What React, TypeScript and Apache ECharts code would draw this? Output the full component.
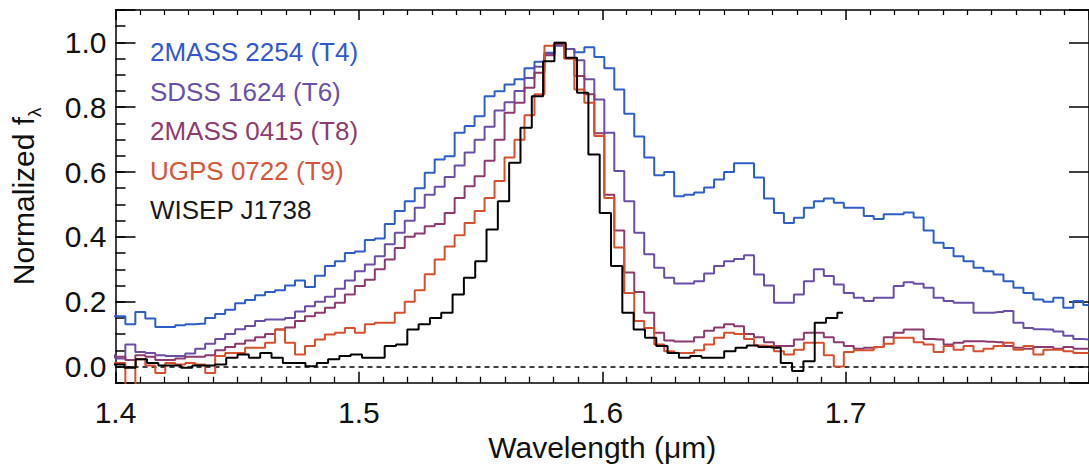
import React, { useEffect, useRef } from "react";
import * as echarts from "echarts";

// Wavelength grid (µm) of the four SpeX-like spectra (bin centres)
const WL_A = [
  1.3979, 1.4020, 1.4061, 1.4102, 1.4143, 1.4184, 1.4225, 1.4266, 1.4307, 1.4348, 1.4389,
  1.4430, 1.4471, 1.4512, 1.4553, 1.4594, 1.4635, 1.4676, 1.4717, 1.4758, 1.4799,
  1.4840, 1.4881, 1.4922, 1.4963, 1.5004, 1.5045, 1.5086, 1.5127, 1.5168, 1.5209,
  1.5250, 1.5291, 1.5332, 1.5373, 1.5414, 1.5455, 1.5496, 1.5537, 1.5578, 1.5619,
  1.5660, 1.5701, 1.5742, 1.5783, 1.5824, 1.5865, 1.5906, 1.5947, 1.5988, 1.6029,
  1.6070, 1.6111, 1.6152, 1.6193, 1.6234, 1.6275, 1.6316, 1.6357, 1.6398, 1.6439,
  1.6480, 1.6521, 1.6562, 1.6603, 1.6644, 1.6685, 1.6726, 1.6767, 1.6808, 1.6849,
  1.6890, 1.6931, 1.6972, 1.7013, 1.7054, 1.7095, 1.7136, 1.7177, 1.7218, 1.7259,
  1.7300, 1.7341, 1.7382, 1.7423, 1.7464, 1.7505, 1.7546, 1.7587, 1.7628, 1.7669,
  1.7710, 1.7751, 1.7792, 1.7833, 1.7874, 1.7915, 1.7956, 1.7997,
];

// Wavelength grid (µm) of the WFC3 spectrum of WISEP J1738 (bin centres)
const WL_B = [
  1.3967, 1.4013, 1.4060, 1.4106, 1.4153, 1.4199, 1.4246, 1.4292, 1.4339, 1.4385, 1.4432,
  1.4478, 1.4525, 1.4571, 1.4618, 1.4664, 1.4711, 1.4757, 1.4804, 1.4850, 1.4897,
  1.4943, 1.4990, 1.5036, 1.5083, 1.5129, 1.5176, 1.5222, 1.5269, 1.5315, 1.5362,
  1.5408, 1.5455, 1.5501, 1.5548, 1.5594, 1.5641, 1.5687, 1.5734, 1.5780, 1.5827,
  1.5873, 1.5920, 1.5966, 1.6013, 1.6059, 1.6106, 1.6152, 1.6199, 1.6245, 1.6292,
  1.6338, 1.6385, 1.6431, 1.6478, 1.6524, 1.6571, 1.6617, 1.6664, 1.6710, 1.6757,
  1.6803, 1.6850, 1.6896, 1.6943, 1.6989,
];

const FLUX_2MASS2254 = [
  0.155, 0.155, 0.13, 0.168, 0.148, 0.122, 0.122, 0.127, 0.13, 0.132, 0.15,
  0.162, 0.175, 0.195, 0.205, 0.22, 0.23, 0.235, 0.25, 0.265, 0.245,
  0.28, 0.31, 0.325, 0.35, 0.355, 0.39, 0.395, 0.44, 0.48, 0.51,
  0.55, 0.598, 0.639, 0.649, 0.721, 0.742, 0.772, 0.834, 0.849, 0.87,
  0.886, 0.92, 0.94, 0.968, 0.995, 0.98, 0.97, 0.985, 0.955, 0.92,
  0.855, 0.78, 0.71, 0.645, 0.59, 0.6, 0.525, 0.53, 0.537, 0.552,
  0.577, 0.6, 0.627, 0.627, 0.583, 0.518, 0.474, 0.443, 0.459, 0.49,
  0.51, 0.518, 0.505, 0.49, 0.49, 0.464, 0.455, 0.47, 0.47, 0.475,
  0.46, 0.42, 0.382, 0.366, 0.34, 0.325, 0.305, 0.294, 0.284, 0.263,
  0.243, 0.227, 0.207, 0.2, 0.212, 0.181, 0.202, 0.19,
];

const FLUX_SDSS1624 = [
  0.035, 0.025, 0.068, 0.045, 0.042, 0.035, 0.032, 0.032, 0.04, 0.055, 0.07,
  0.085, 0.1, 0.115, 0.125, 0.14, 0.145, 0.145, 0.15, 0.17, 0.186,
  0.2, 0.215, 0.24, 0.265, 0.294, 0.315, 0.34, 0.377, 0.413, 0.45,
  0.49, 0.53, 0.555, 0.585, 0.62, 0.66, 0.7, 0.74, 0.79, 0.815,
  0.85, 0.89, 0.925, 0.965, 0.99, 0.98, 0.945, 0.886, 0.824, 0.721,
  0.603, 0.51, 0.413, 0.346, 0.305, 0.274, 0.256, 0.256, 0.263, 0.287,
  0.31, 0.325, 0.332, 0.343, 0.284, 0.25, 0.197, 0.197, 0.222, 0.263,
  0.3, 0.279, 0.253, 0.227, 0.212, 0.202, 0.212, 0.212, 0.248, 0.26,
  0.255, 0.243, 0.212, 0.202, 0.197, 0.197, 0.166, 0.166, 0.168, 0.171,
  0.135, 0.119, 0.115, 0.114, 0.108, 0.095, 0.085, 0.083,
];

const FLUX_2MASS0415 = [
  0.03, 0.03, 0.02, 0.035, 0.03, 0.02, 0.02, 0.025, 0.03, 0.03, 0.035,
  0.05, 0.06, 0.07, 0.08, 0.09, 0.1, 0.114, 0.12, 0.14, 0.155,
  0.166, 0.181, 0.197, 0.222, 0.248, 0.268, 0.3, 0.33, 0.366, 0.4,
  0.41, 0.433, 0.44, 0.474, 0.52, 0.556, 0.587, 0.635, 0.7, 0.783,
  0.814, 0.86, 0.906, 0.96, 0.994, 0.95, 0.896, 0.84, 0.72, 0.53,
  0.42, 0.29, 0.23, 0.166, 0.104, 0.08, 0.077, 0.077, 0.09, 0.11,
  0.12, 0.13, 0.124, 0.1, 0.09, 0.075, 0.063, 0.063, 0.083, 0.104,
  0.104, 0.09, 0.075, 0.063, 0.055, 0.058, 0.06, 0.09, 0.104, 0.114,
  0.114, 0.085, 0.083, 0.068, 0.073, 0.078, 0.078, 0.076, 0.075, 0.063,
  0.058, 0.055, 0.06, 0.06, 0.055, 0.06, 0.055, 0.055,
];

const FLUX_UGPS0722 = [
  0.011, 0.011, -0.06, 0.022, 0.003, -0.02, 0.011, 0.006, 0.011, 0.006, -0.02,
  0.032, 0.042, 0.042, 0.058, 0.058, 0.073, 0.114, 0.073, 0.037, 0.063,
  0.083, 0.099, 0.104, 0.119, 0.104, 0.13, 0.135, 0.135, 0.166, 0.2,
  0.235, 0.285, 0.33, 0.37, 0.405, 0.443, 0.48, 0.52, 0.572, 0.645,
  0.7, 0.775, 0.84, 0.99, 0.999, 0.95, 0.855, 0.814, 0.711, 0.52,
  0.367, 0.227, 0.14, 0.119, 0.068, 0.047, 0.042, 0.042, 0.05, 0.068,
  0.089, 0.104, 0.1, 0.085, 0.065, 0.063, 0.047, 0.037, 0.052, 0.073,
  0.073, 0.035, 0.0, 0.045, 0.05, 0.05, 0.06, 0.07, 0.089, 0.089,
  0.075, 0.068, 0.045, 0.063, 0.052, 0.063, 0.047, 0.055, 0.063, 0.073,
  0.052, 0.063, 0.037, 0.052, 0.052, 0.047, 0.042, 0.042,
];

const FLUX_WISEP1738 = [
  0.006, 0.006, -0.004, 0.022, 0.011, 0.003, 0.003, -0.004, 0.003, 0.003, 0.006,
  0.027, 0.037, 0.027, 0.042, 0.027, 0.011, 0.011, 0.001, 0.011, 0.022,
  0.032, 0.037, 0.027, 0.027, 0.063, 0.068, 0.114, 0.13, 0.15, 0.166,
  0.222, 0.274, 0.325, 0.423, 0.51, 0.629, 0.737, 0.834, 0.942, 0.999,
  0.953, 0.845, 0.654, 0.474, 0.31, 0.166, 0.114, 0.089, 0.063, 0.042,
  0.027, 0.032, 0.027, 0.027, 0.047, 0.058, 0.065, 0.06, 0.058, 0.011,
  -0.014, 0.016, 0.135, 0.15, 0.166,
];

const SERIES_NAMES = [
  "2MASS 2254 (T4)",
  "SDSS 1624 (T6)",
  "2MASS 0415 (T8)",
  "UGPS 0722 (T9)",
  "WISEP J1738",
];

const FONT = '"Liberation Sans", Arial, Helvetica, sans-serif';
const LINE_COLORS = ["#2e5fc9", "#6a4ea8", "#8d3b6e", "#d6502e", "#000000"];
const TEXT_COLORS = ["#3158d0", "#6a50aa", "#8e3c70", "#d6553a", "#1a1a1a"];

export default function App() {
  const ref = useRef<HTMLDivElement>(null);

  useEffect(() => {
    if (!ref.current) return;
    const chart = echarts.init(ref.current, null, { renderer: "svg" });
    const pair = (xs: number[], ys: number[]) => xs.map((x, i) => [x, ys[i]]);
    const spectra = [
      pair(WL_A, FLUX_2MASS2254),
      pair(WL_A, FLUX_SDSS1624),
      pair(WL_A, FLUX_2MASS0415),
      pair(WL_A, FLUX_UGPS0722),
      pair(WL_B, FLUX_WISEP1738),
    ];

    const yFmt = (v: number) =>
      Math.abs(v * 5 - Math.round(v * 5)) < 1e-6 ? v.toFixed(1) : "";

    const series: any[] = spectra.map((data, i) => ({
      type: "line",
      name: SERIES_NAMES[i],
      data,
      step: "middle",
      showSymbol: false,
      symbol: "none",
      clip: true,
      z: 2 + i,
      lineStyle: { color: LINE_COLORS[i], width: 2 },
      itemStyle: { color: LINE_COLORS[i] },
      emphasis: { disabled: true },
    }));
    series[0].markLine = {
      silent: true,
      symbol: ["none", "none"],
      label: { show: false },
      lineStyle: { color: "#000", width: 1.5, type: [5, 4] },
      emphasis: { disabled: true },
      data: [{ yAxis: 0 }],
    };

    chart.setOption({
      animation: false,
      backgroundColor: "#ffffff",
      grid: { left: 115.5, top: 10, right: -13.5, bottom: 86.3, containLabel: false },
      xAxis: [
        {
          type: "value",
          position: "bottom",
          min: 1.4,
          max: 1.8,
          interval: 0.1,
          axisLine: { show: true, onZero: false, lineStyle: { color: "#000", width: 1.5 } },
          axisTick: { show: true, inside: true, length: 11, lineStyle: { color: "#000", width: 1.5 } },
          minorTick: { show: true, splitNumber: 10, length: 6, lineStyle: { color: "#000", width: 1.3 } },
          splitLine: { show: false },
          minorSplitLine: { show: false },
          axisLabel: {
            fontSize: 30,
            fontFamily: FONT,
            color: "#111",
            margin: 15,
            showMaxLabel: false,
            formatter: (v: number) => v.toFixed(1),
          },
          name: "Wavelength (μm)",
          nameLocation: "middle",
          nameGap: 48,
          nameTextStyle: { fontSize: 30, fontFamily: FONT, color: "#111" },
        },
        {
          type: "value",
          position: "top",
          min: 1.4,
          max: 1.8,
          interval: 0.1,
          axisLine: { show: true, onZero: false, lineStyle: { color: "#000", width: 1.5 } },
          axisTick: { show: true, inside: true, length: 10, lineStyle: { color: "#000", width: 1.5 } },
          minorTick: { show: true, splitNumber: 10, length: 5, lineStyle: { color: "#000", width: 1.3 } },
          splitLine: { show: false },
          axisLabel: { show: false },
        },
      ],
      yAxis: [
        {
          type: "value",
          position: "left",
          min: -0.05,
          max: 1.1,
          splitNumber: 5,
          axisLine: { show: true, onZero: false, lineStyle: { color: "#000", width: 1.5 } },
          axisTick: { show: true, inside: true, length: 20, lineStyle: { color: "#000", width: 1.5 } },
          splitLine: { show: false },
          axisLabel: { fontSize: 30, fontFamily: FONT, color: "#111", margin: 9, formatter: yFmt },
          name: "Normalized f{sub|λ}",
          nameLocation: "middle",
          nameGap: 72,
          nameRotate: 90,
          nameTextStyle: {
            fontSize: 30,
            fontFamily: FONT,
            color: "#111",
            rich: {
              sub: { fontSize: 19, fontFamily: FONT, color: "#111", verticalAlign: "bottom", lineHeight: 40 },
            },
          },
        },
        {
          type: "value",
          position: "left",
          min: -0.05,
          max: 1.1,
          interval: 0.05,
          axisLine: { show: false, onZero: false },
          axisTick: { show: true, inside: true, length: 10, lineStyle: { color: "#000", width: 1.5 } },
          splitLine: { show: false },
          axisLabel: { show: false },
        },
        {
          type: "value",
          position: "right",
          min: -0.05,
          max: 1.1,
          splitNumber: 5,
          axisLine: { show: true, onZero: false, lineStyle: { color: "#000", width: 1.5 } },
          axisTick: { show: true, inside: true, length: 20, lineStyle: { color: "#000", width: 1.5 } },
          splitLine: { show: false },
          axisLabel: { show: false },
        },
      ],
      graphic: SERIES_NAMES.map((name, i) => ({
        type: "text",
        x: 150,
        y: 52 + i * 39.5,
        silent: true,
        style: {
          text: name,
          fill: TEXT_COLORS[i],
          font: `26px ${FONT}`,
          verticalAlign: "middle",
          align: "left",
        },
      })),
      series,
    });

    return () => chart.dispose();
  }, []);

  return (
    <div
      ref={ref}
      style={{ position: "fixed", left: 0, top: 0, width: 1089, height: 469, background: "#fff" }}
    />
  );
}
